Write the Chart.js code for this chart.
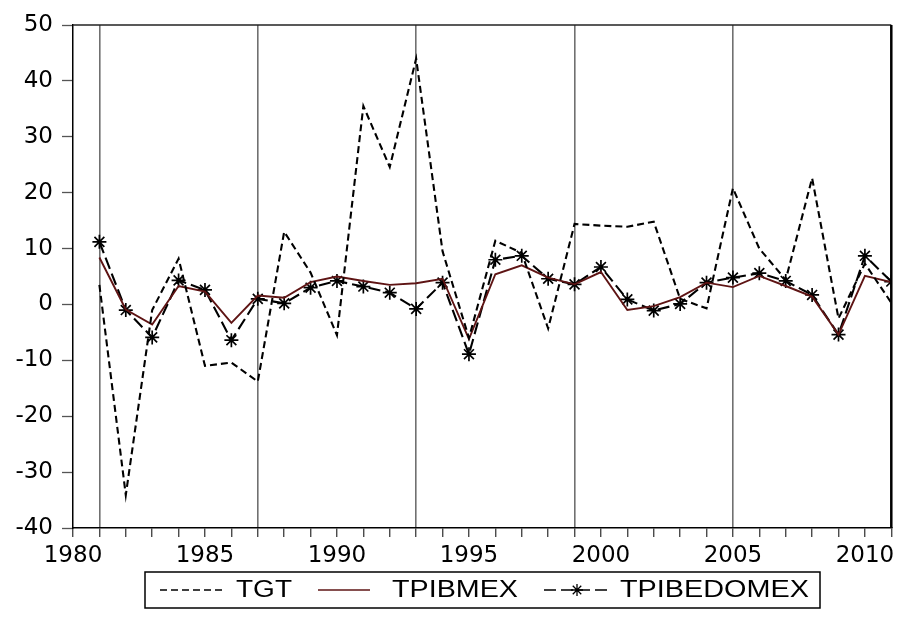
<!DOCTYPE html>
<html>
<head>
<meta charset="utf-8">
<script src="https://cdn.jsdelivr.net/npm/chart.js@4.4.1/dist/chart.umd.min.js"></script>
<style>
  html, body { margin: 0; padding: 0; background: #fff; }
  #wrap { width: 900px; height: 635px; position: relative; }
</style>
</head>
<body>
<div id="wrap"><canvas id="c" width="900" height="635"></canvas></div>
<script>
// ---- data ----
const years = [1981,1982,1983,1984,1985,1986,1987,1988,1989,1990,1991,1992,1993,1994,1995,1996,1997,1998,1999,2000,2001,2002,2003,2004,2005,2006,2007,2008,2009,2010,2011];
const seriesNames = ['TGT', 'TPIBMEX', 'TPIBEDOMEX'];
const tgt = [3.5,-34.1,-1.0,8.2,-11.0,-10.4,-13.8,13.0,5.7,-5.5,35.5,24.6,44.0,9.5,-6.0,11.4,9.2,-4.3,14.4,14.1,13.9,14.8,1.0,-0.7,20.8,10.0,4.4,22.6,-2.5,7.3,0.3];
const tpibmex = [8.4,-0.9,-3.6,3.3,2.3,-3.3,1.6,1.2,4.0,5.0,4.2,3.5,3.8,4.6,-6.2,5.4,7.0,4.8,3.6,5.8,-1.0,-0.3,1.3,3.9,3.1,5.1,3.3,1.4,-5.4,5.1,4.0];
const tpibedomex = [11.2,-1.0,-5.9,4.3,2.6,-6.4,1.0,0.2,3.0,4.2,3.2,2.1,-0.8,3.9,-8.9,8.0,8.7,4.6,3.6,6.7,0.9,-1.1,0.1,3.9,4.8,5.6,4.2,1.7,-5.4,8.7,4.1];
const verticalLines = [1981, 1987, 1993, 1999, 2005];
const xLabelYears = [1980, 1985, 1990, 1995, 2000, 2005, 2010];
const yTicks = [-40,-30,-20,-10,0,10,20,30,40,50];

// ---- styles ----
const RED = '#5e1414';
const FONT = '"DejaVu Sans", "Liberation Sans", Arial, sans-serif';
const styles = [
  { color: '#000', dash: [7, 4], width: 2.1, star: false },
  { color: RED, dash: [], width: 1.9, star: false },
  { color: '#000', dash: [12, 5], width: 2.1, star: true }
];
const seriesData = [tgt, tpibmex, tpibedomex];

const datasets = seriesNames.map((name, i) => ({
  label: name,
  data: years.map((y, k) => ({ x: y, y: seriesData[i][k] })),
  borderColor: styles[i].color,
  backgroundColor: styles[i].color,
  borderWidth: styles[i].width,
  borderDash: styles[i].dash,
  pointStyle: styles[i].star ? 'star' : 'circle',
  pointRadius: styles[i].star ? 7 : 0,
  pointBorderWidth: 1.7,
  pointBorderColor: '#000',
  tension: 0,
  fill: false
}));

const frame = {
  id: 'frame',
  afterDatasetsDraw(chart) {
    const { ctx, chartArea: a } = chart;
    ctx.save();
    ctx.strokeStyle = '#222';
    ctx.lineWidth = 1.5;
    ctx.beginPath();
    ctx.moveTo(a.left, a.top); ctx.lineTo(a.right, a.top);
    ctx.stroke();
    ctx.lineWidth = 2.5;
    ctx.strokeStyle = '#000';
    ctx.beginPath();
    ctx.moveTo(a.right, a.top); ctx.lineTo(a.right, a.bottom);
    ctx.stroke();
    ctx.restore();
  }
};

// legend layout (sample line span, text start, text width)
const legendItems = [
  { x0: 160, x1: 225, tx: 236, tw: 56 },
  { x0: 318, x1: 370, tx: 392, tw: 126 },
  { x0: 544, x1: 610, tx: 620, tw: 189 }
];

const customLegend = {
  id: 'customLegend',
  afterDraw(chart) {
    const ctx = chart.ctx;
    ctx.save();
    const bx = 145, by = 572, bw = 675, bh = 36;
    ctx.strokeStyle = '#000';
    ctx.lineWidth = 1.5;
    ctx.setLineDash([]);
    ctx.strokeRect(bx, by, bw, bh);
    const cy = by + bh / 2;
    seriesNames.forEach((name, i) => {
      const it = legendItems[i], st = styles[i];
      ctx.strokeStyle = st.color;
      ctx.lineWidth = 1.6;
      ctx.setLineDash(st.dash);
      ctx.beginPath();
      ctx.moveTo(it.x0, cy); ctx.lineTo(it.x1, cy);
      ctx.stroke();
      ctx.setLineDash([]);
      if (st.star) {
        const mx = (it.x0 + it.x1) / 2, r = 6;
        ctx.strokeStyle = '#000';
        ctx.lineWidth = 1.3;
        ctx.beginPath();
        for (let k = 0; k < 4; k++) {
          const ang = k * Math.PI / 4;
          ctx.moveTo(mx - r * Math.cos(ang), cy - r * Math.sin(ang));
          ctx.lineTo(mx + r * Math.cos(ang), cy + r * Math.sin(ang));
        }
        ctx.stroke();
      }
      ctx.fillStyle = '#000';
      ctx.font = '23px "Liberation Sans", Arial, sans-serif';
      ctx.textBaseline = 'middle';
      ctx.textAlign = 'left';
      const w = ctx.measureText(name).width;
      ctx.save();
      ctx.translate(it.tx, cy + 1);
      ctx.scale(it.tw / w, 1);
      ctx.fillText(name, 0, 0);
      ctx.restore();
    });
    ctx.restore();
  }
};

new Chart(document.getElementById('c'), {
  type: 'line',
  data: { datasets },
  plugins: [frame, customLegend],
  options: {
    responsive: false,
    animation: false,
    layout: { padding: { left: 0, right: 7, top: 25, bottom: 0 } },
    plugins: { legend: { display: false }, tooltip: { enabled: false } },
    scales: {
      x: {
        type: 'linear',
        min: 1980, max: 2011,
        afterFit(s) { s.height = 107; },
        afterBuildTicks(s) {
          const t = [];
          for (let v = 1980; v <= 2011; v++) t.push({ value: v });
          s.ticks = t;
        },
        ticks: {
          autoSkip: false,
          maxRotation: 0,
          padding: 5,
          color: '#000',
          font: { family: FONT, size: 23 },
          callback: (v) => xLabelYears.includes(v) ? String(v) : ''
        },
        grid: {
          drawOnChartArea: true,
          drawTicks: true,
          tickLength: 9,
          tickColor: '#000',
          tickWidth: 1,
          lineWidth: 1.6,
          color: (c) => (c.tick && verticalLines.includes(c.tick.value)) ? '#707070' : 'rgba(0,0,0,0)'
        },
        border: { display: true, color: '#000', width: 1.5 }
      },
      y: {
        min: -40, max: 50,
        afterFit(s) { s.width = 73; },
        afterBuildTicks(s) { s.ticks = yTicks.map(v => ({ value: v })); },
        ticks: {
          padding: 9,
          color: '#000',
          font: { family: FONT, size: 23 }
        },
        grid: {
          drawOnChartArea: false,
          drawTicks: true,
          tickLength: 11,
          tickColor: '#555',
          tickWidth: 1.3
        },
        border: { display: true, color: '#000', width: 1.5 }
      }
    }
  }
});
</script>
</body>
</html>
